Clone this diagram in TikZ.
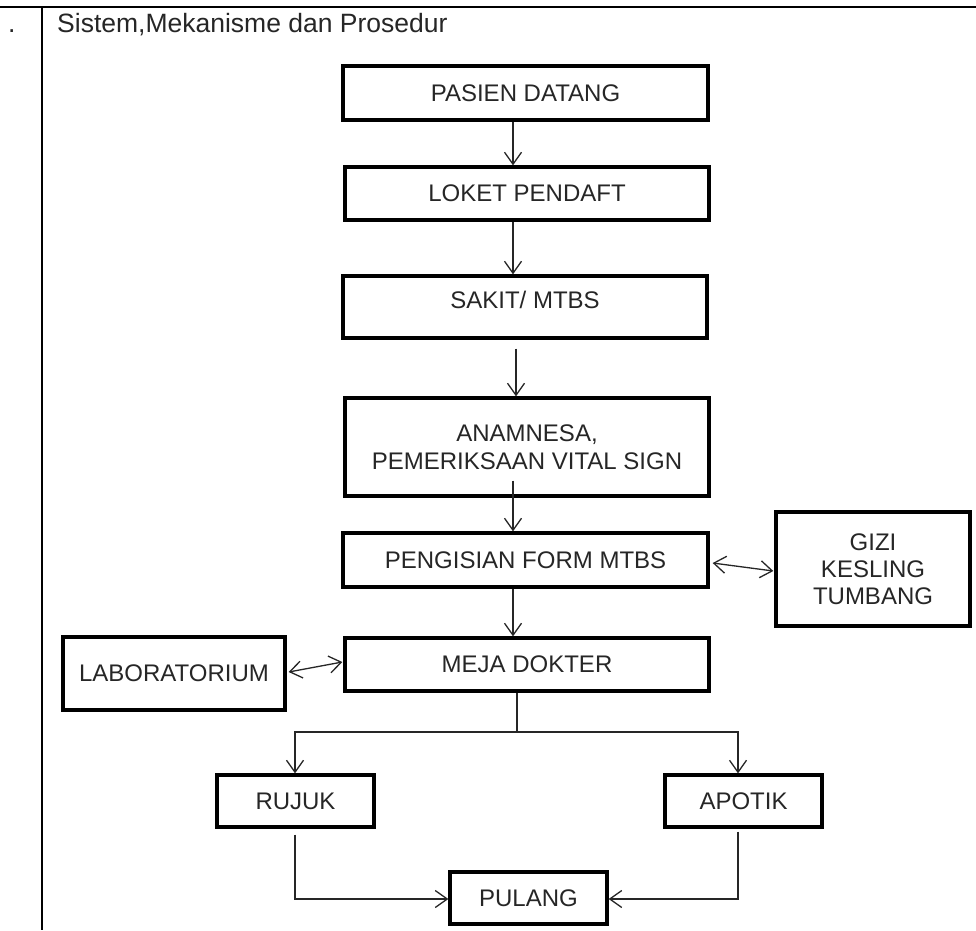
\documentclass[tikz,border=0pt]{standalone}
\usepackage{fontspec}
\setmainfont{Liberation Sans}
\usetikzlibrary{arrows.meta}
\definecolor{txt}{HTML}{262626}
\begin{document}
\begin{tikzpicture}[x=1pt,y=-1pt,
  box/.style={draw=black, line width=3.3pt, inner sep=0pt, align=center,
    text=txt, font=\fontsize{24}{28}\selectfont},
  conn/.style={draw=black!85, line width=1.3pt},
  tip/.style={},
  arr/.style={conn, -{Straight Barb[length=12pt,width=17pt]}},
  darr/.style={conn, {Straight Barb[length=12pt,width=17pt]}-{Straight Barb[length=12pt,width=17pt]}}]
\useasboundingbox (0,0) rectangle (976,930);
% table frame
\coordinate (tl) at (0,7);
\coordinate (tr) at (976,7);
\coordinate (vt) at (42,7);
\coordinate (vb) at (42,930);
\draw[line width=1.3pt] (tl) -- (tr);
\draw[line width=1.3pt] (vt) -- (vb);
\node[anchor=base west, inner sep=0pt, text=txt, font=\fontsize{26.5}{30}\selectfont] (dot) at (8,32) {.};
\node[anchor=base west, inner sep=0pt, text=txt, font=\fontsize{26.5}{30}\selectfont] (title) at (57,32) {Sistem,Mekanisme dan Prosedur};
% boxes
\node[box, minimum width=365pt, minimum height=54pt] (pasien) at (525.5,93) {PASIEN DATANG};
\node[box, minimum width=364pt, minimum height=53pt] (loket) at (527,193.5) {LOKET PENDAFT};
\node[box, minimum width=364pt, minimum height=62pt, text height=17pt, text depth=14pt] (sakit) at (525,307) {SAKIT/ MTBS};
\node[box, minimum width=364pt, minimum height=98pt] (anam) at (527,447) {ANAMNESA,\\PEMERIKSAAN VITAL SIGN};
\node[box, minimum width=365pt, minimum height=54pt] (peng) at (525.5,560) {PENGISIAN FORM MTBS};
\node[box, minimum width=364pt, minimum height=53pt] (meja) at (527,664.5) {MEJA DOKTER};
\node[box, minimum width=222pt, minimum height=73pt] (lab) at (174,673.5) {LABORATORIUM};
\node[box, minimum width=194pt, minimum height=114pt, font=\fontsize{24}{27}\selectfont] (gizi) at (873,569) {GIZI\\KESLING\\TUMBANG};
\node[box, minimum width=157pt, minimum height=52pt] (rujuk) at (295.5,801) {RUJUK};
\node[box, minimum width=157pt, minimum height=52pt] (apotik) at (743.5,801) {APOTIK};
\node[box, minimum width=157pt, minimum height=52pt] (pulang) at (528.5,898) {PULANG};
% connectors
\draw[arr] ([xshift=-12.5pt]pasien.south) -- ([xshift=-14pt]loket.north);
\draw[arr] ([xshift=-14pt]loket.south) -- ([xshift=-12pt]sakit.north);
\draw[arr] ([xshift=-9pt,yshift=-9pt]sakit.south) -- ([xshift=-11pt]anam.north);
\draw[arr] ([xshift=-14pt,yshift=17pt]anam.south) -- ([xshift=-12.5pt]peng.north);
\draw[arr] ([xshift=-12.5pt]peng.south) -- ([xshift=-14pt]meja.north);
\draw[darr] ([xshift=3pt,yshift=-3pt]peng.east) -- ([xshift=-1pt,yshift=-2pt]gizi.west);
\draw[darr] ([xshift=2pt,yshift=1.5pt]lab.east) -- ([xshift=-1pt,yshift=2.5pt]meja.west);
\coordinate (split) at (517,732);
\draw[conn] ([xshift=-10pt]meja.south) -- (split);
\draw[arr] (split) -| ([xshift=-0.5pt]rujuk.north);
\draw[arr] (split) -| ([xshift=-5.5pt]apotik.north);
\draw[arr] ([xshift=-0.5pt,yshift=-6pt]rujuk.south) |- ([yshift=-1pt]pulang.west);
\draw[arr] ([xshift=-5.5pt,yshift=-3pt]apotik.south) |- ([yshift=-1pt]pulang.east);
\end{tikzpicture}
\end{document}
